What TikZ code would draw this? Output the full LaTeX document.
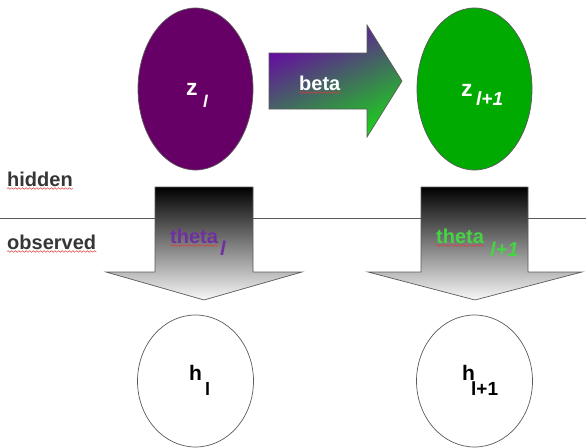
\documentclass[tikz,border=0pt]{standalone}
\usepackage{fontspec}
\setmainfont{Liberation Sans}
\usetikzlibrary{shapes.geometric,decorations.pathmorphing}
\definecolor{zpurple}{HTML}{660066}
\definecolor{zgreen}{HTML}{00AA00}
\definecolor{bpurple}{HTML}{6A00A8}
\definecolor{bgreen}{HTML}{1ECC1E}
\definecolor{thpurple}{HTML}{7030A0}
\definecolor{thgreen}{HTML}{44D444}
\definecolor{labelgray}{HTML}{363636}
\definecolor{edgegray}{HTML}{5A5A5A}
\definecolor{spellred}{HTML}{E23A3A}

\begin{document}
\begin{tikzpicture}[x=1pt,y=-1pt,
  txt/.style={inner sep=0pt, anchor=base west, font=\bfseries\fontsize{20}{24}\selectfont},
  sub/.style={txt, font=\bfseries\itshape\fontsize{20}{24}\selectfont},
  big/.style={txt, font=\bfseries\fontsize{23}{27}\selectfont},
  state/.style={ellipse, draw=edgegray, line width=0.7pt, minimum width=115pt, minimum height=162pt, inner sep=0pt},
  obsnode/.style={ellipse, draw=edgegray, line width=0.7pt, fill=white, minimum width=116pt, minimum height=132pt, inner sep=0pt},
  blockdown/.style={draw=edgegray, line width=0.7pt, top color=black, bottom color=gray!6},
  squiggle/.style={spellred, line width=0.5pt, decorate, decoration={snake, amplitude=0.8pt, segment length=3.6pt}}
]
\useasboundingbox (0,0) rectangle (586,447);

% layer separator
\draw[edgegray, line width=1pt] (0,218) coordinate (sepL) -- (586,218) coordinate (sepR);

% emission arrows (hidden -> observed)
\shadedraw[blockdown] (155,187) -- (253,187) -- (253,272) -- (302,272) -- (204,300) -- (106,272) -- (155,272) -- cycle;
\shadedraw[blockdown] (421,187) -- (528,187) -- (528,272) -- (582,272) -- (475,300) -- (368,272) -- (421,272) -- cycle;

% transition arrow
\shadedraw[draw=edgegray, line width=0.7pt, top color=bpurple, bottom color=bgreen, shading angle=25]
  (269,53) -- (367,53) -- (367,25) -- (402,81) -- (367,137) -- (367,109) -- (269,109) -- cycle;

% hidden states
\node[state, fill=zpurple] (zl) at (195.5,89) {};
\node[state, fill=zgreen] (zl1) at (474.5,89) {};

% observations
\node[obsnode] (hl) at (195.5,381) {};
\node[obsnode] (hl1) at (474.5,381) {};

% labels
\node[big, text=white] (zt) at (186,95) {z};
\node[sub, text=white, font=\bfseries\itshape\fontsize{17}{20}\selectfont] (zts) at (203,107) {l};
\node[big, text=white] (zt1) at (461,96) {z};
\node[sub, text=white, font=\bfseries\itshape\fontsize{19}{22}\selectfont] (zt1s) at (476,105) {l+1};
\node[txt, text=white] (beta) at (299,90) {beta};
\node[txt, text=thpurple] (th) at (170,243) {theta};
\node[sub, text=thpurple] (ths) at (220,255) {l};
\node[txt, text=thgreen] (th1) at (436,243) {theta};
\node[sub, text=thgreen] (th1s) at (490,256) {l+1};
\node[txt, font=\bfseries\fontsize{21}{25}\selectfont] (h) at (189,380) {h};
\node[txt, font=\bfseries\fontsize{18}{22}\selectfont] (hs) at (205,395) {l};
\node[txt, font=\bfseries\fontsize{21}{25}\selectfont] (h1) at (462,380) {h};
\node[txt, font=\bfseries\fontsize{19}{22}\selectfont] (h1s) at (471,395) {l+1};
\node[txt, text=labelgray] (hid) at (7,186) {hidden};
\node[txt, text=labelgray] (obs) at (7,249) {observed};

% spelling marks
\foreach \w in {hid,obs,beta,th,th1}
  \draw[squiggle] ([yshift=-2.5pt]\w.base west) -- ([yshift=-2.5pt]\w.base east);
\end{tikzpicture}
\end{document}
